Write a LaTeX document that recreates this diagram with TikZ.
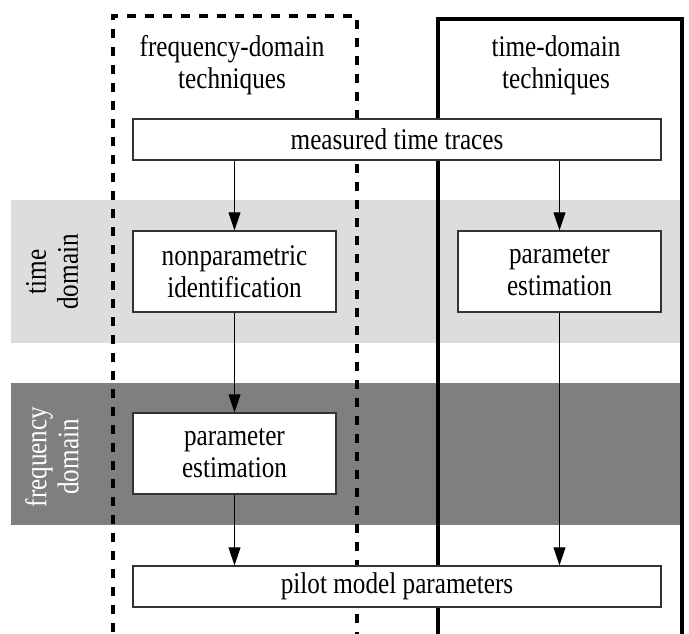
\documentclass[tikz,border=0pt]{standalone}
\usepackage{fontspec}
\setmainfont{Liberation Serif}[FakeStretch=0.84]
\usetikzlibrary{arrows.meta}
\definecolor{bandlight}{HTML}{DDDDDD}
\definecolor{banddark}{HTML}{7F7F7F}
\definecolor{boxline}{HTML}{333333}
\tikzset{
  txt/.style={font=\fontsize{30}{32}\selectfont, align=center, inner sep=0pt},
  stepbox/.style={draw=boxline, line width=1.3pt, fill=white, inner sep=0pt},
  flow/.style={line width=0.9pt, -{Triangle[length=18pt,width=12pt]}},
  bandlabel/.style={txt, rotate=90},
}
\begin{document}
\begin{tikzpicture}[x=1pt,y=-1pt]
\useasboundingbox (0,0) rectangle (689,634);
\clip (0,0) rectangle (689,634);

% domain bands
\fill[bandlight] (11,200) rectangle (682,343);
\fill[banddark] (11,383) rectangle (682,525);
\node[bandlabel] (tdlab) at (52,272) {time\\domain};
\node[bandlabel, text=white] (fdlab) at (52,457) {frequency\\domain};

% technique frames
\draw[line width=4pt, dash pattern=on 9pt off 9pt] (113,650) -- (113,16) -- (357,16) -- (357,650);
\draw[line width=4pt] (438,650) -- (438,19) -- (682,19) -- (682,650);
\node[txt] (fdtitle) at (232,65) {frequency-domain\\techniques};
\node[txt] (tdtitle) at (556,65) {time-domain\\techniques};

% process boxes
\node[stepbox, minimum width=528pt, minimum height=41pt] (meas) at (397,139.5) {};
\node[txt] at (meas) {measured time traces};
\node[stepbox, minimum width=203pt, minimum height=81pt] (nonpar) at (234.5,271.5) {};
\node[txt] at (nonpar) {nonparametric\\identification};
\node[stepbox, minimum width=203pt, minimum height=81pt] (partd) at (559.5,271.5) {};
\node[txt] at (partd) {parameter\\estimation};
\node[stepbox, minimum width=203pt, minimum height=81pt] (parfd) at (234.5,453.5) {};
\node[txt] at (parfd) {parameter\\estimation};
\node[stepbox, minimum width=528pt, minimum height=41pt] (pilot) at (397,586.5) {};
\node[txt] at (pilot) {pilot model parameters};

% connectors
\draw[flow] (meas.south -| nonpar.north) -- (nonpar.north);
\draw[flow] (nonpar.south) -- (parfd.north);
\draw[flow] (parfd.south) -- (pilot.north -| parfd.south);
\draw[flow] (meas.south -| partd.north) -- (partd.north);
\draw[flow] (partd.south) -- (pilot.north -| partd.south);
\end{tikzpicture}
\end{document}
